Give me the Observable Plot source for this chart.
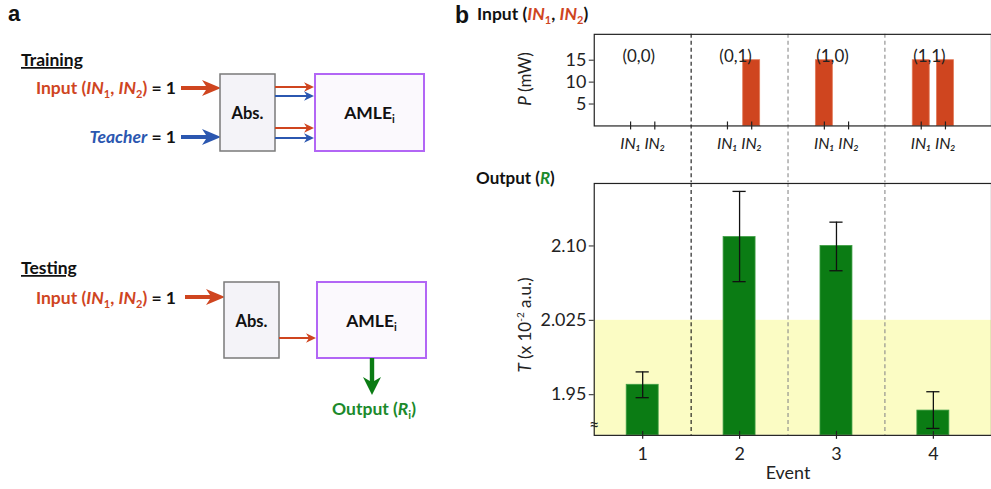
<!DOCTYPE html>
<html><head><meta charset="utf-8">
<script src="https://cdn.jsdelivr.net/npm/d3@7"></script>
<script src="https://cdn.jsdelivr.net/npm/@observablehq/plot@0.6"></script>
<style>
html,body{margin:0;padding:0;background:#fff;}
#root{position:relative;width:991px;height:489px;overflow:hidden;font-family:Lato,"Open Sans",sans-serif;color:#111;}
.abs{position:absolute;}
</style></head>
<body><div id="root">
<svg id="diagram" class="abs" style="left:0;top:0" width="991" height="489" font-family="Lato, sans-serif" font-weight="bold"></svg>
<div id="topChart" class="abs" style="left:534px;top:0px"></div>
<div id="bottomChart" class="abs" style="left:534px;top:178px"></div>
<svg id="labels" class="abs" style="left:0;top:0;pointer-events:none" width="991" height="489" font-family="Lato, sans-serif"></svg>
</div>
<script>
// ---------- data ----------
const groupLabels = ["(0,0)", "(0,1)", "(1,0)", "(1,1)"];
const channelLabels = ["IN\u2081", "IN\u2082"];
const powerIN1 = [0, 0, 15, 15];   // mW
const powerIN2 = [0, 15, 0, 15];   // mW
const powerTicks = [5, 10, 15];
const events = [1, 2, 3, 4];
const transmission = [1.960, 2.109, 2.100, 1.934];
const errLow = [1.947, 2.064, 2.075, 1.916];
const errHigh = [1.973, 2.155, 2.124, 1.953];
const tTicks = [1.95, 2.025, 2.10];
const tTickLabels = ["1.95", "2.025", "2.10"];
const threshold = 2.025;
const dividers = [1.5, 2.5, 3.5];

// ---------- layout constants ----------
const xDomain = [0.5, 4.6];
const pDomain = [0, 20.9];
const tDomain = [1.909, 2.163];
const chOffset = 0.125, inBarHalf = 0.0875, outBarHalf = 0.165, capHalf = 0.068;
const ORANGE = "#cf451f", BLUE = "#2b57b0", GREEN = "#0b7c14", GREEN_TXT = "#1b8a2b";
const baseStyle = {fontFamily: "Lato, sans-serif", fontSize: "16px", color: "#222", background: "transparent", overflow: "visible"};

const inputRows = events.flatMap((g, i) => [
  {x: g - chOffset, label: channelLabels[0], P: powerIN1[i]},
  {x: g + chOffset, label: channelLabels[1], P: powerIN2[i]}
]);
const labelByX = new Map(inputRows.map(d => [d.x, d.label]));
const outRows = events.map((e, i) => ({e, T: transmission[i], lo: errLow[i], hi: errHigh[i]}));

const dividerMarks = (extra) => [
  Plot.ruleX(dividers.slice(0, 1), {x: d => d, stroke: "#111", strokeWidth: 1.1, strokeDasharray: "4,3", ...extra}),
  Plot.ruleX(dividers.slice(1), {x: d => d, stroke: "#8a8a8a", strokeWidth: 1.1, strokeDasharray: "4,3", ...extra})
];

const topPlot = Plot.plot({
  width: 459, height: 183, marginTop: 34, marginBottom: 57, marginLeft: 60, marginRight: 0,
  style: baseStyle,
  x: {domain: xDomain, axis: null},
  y: {domain: pDomain, axis: null},
  marks: [
    ...dividerMarks({insetBottom: -57}),
    Plot.rect(inputRows.filter(d => d.P > 0), {x1: d => d.x - inBarHalf, x2: d => d.x + inBarHalf, y1: 0, y2: "P", fill: ORANGE, stroke: "#e27a58", strokeWidth: 0.8}),
    Plot.frame({stroke: "#222", strokeWidth: 1.2}),
    Plot.ruleX(inputRows, {x: "x", y1: 0, y2: 0, insetTop: -4, insetBottom: -4, stroke: "#222", strokeWidth: 1.2}),
    Plot.axisX(inputRows.map(d => d.x), {label: null, tickSize: 0, tickPadding: 12, tickFormat: d => labelByX.get(d), fontStyle: "italic", fontSize: 16}),
    Plot.axisY(powerTicks, {label: null, tickSize: 5, tickPadding: 3, fontSize: 18}),
    Plot.text(groupLabels, {x: (d, i) => events[i], frameAnchor: "top", dy: 16, dx: -4, fontSize: 17})
  ]
});
document.getElementById("topChart").append(topPlot);

const bottomPlot = Plot.plot({
  width: 459, height: 311, marginTop: 5, marginBottom: 53, marginLeft: 60, marginRight: 0,
  style: baseStyle,
  x: {domain: xDomain, axis: null},
  y: {domain: tDomain, axis: null},
  marks: [
    Plot.rect([threshold], {x1: xDomain[0], x2: xDomain[1], y1: tDomain[0], y2: d => d, fill: "#fbfcc4"}),
    ...dividerMarks({}),
    Plot.rect(outRows, {x1: d => d.e - outBarHalf, x2: d => d.e + outBarHalf, y1: tDomain[0], y2: "T", fill: GREEN, stroke: "#3f9e44", strokeWidth: 0.8}),
    Plot.ruleX(outRows, {x: "e", y1: "lo", y2: "hi", stroke: "#111", strokeWidth: 1.3}),
    Plot.ruleY(outRows, {y: "hi", x1: d => d.e - capHalf, x2: d => d.e + capHalf, stroke: "#111", strokeWidth: 1.3}),
    Plot.ruleY(outRows, {y: "lo", x1: d => d.e - capHalf, x2: d => d.e + capHalf, stroke: "#111", strokeWidth: 1.3}),
    Plot.frame({stroke: "#222", strokeWidth: 1.2}),
    Plot.ruleX(events, {x: d => d, y1: tDomain[0], y2: tDomain[0], insetTop: -4, insetBottom: -4, stroke: "#222", strokeWidth: 1.2}),
    Plot.axisX(events, {label: null, tickSize: 0, tickPadding: 12, fontSize: 18}),
    Plot.axisY(tTicks, {label: null, tickSize: 5, tickPadding: 3, tickFormat: d => tTickLabels[tTicks.indexOf(d)], fontSize: 18}),
    Plot.text(["\u2248"], {frameAnchor: "bottom-left", dy: -4, fontSize: 18, textAnchor: "middle"}),
    Plot.text(["Event"], {x: 2.5, frameAnchor: "bottom", dy: 44, fontSize: 18})
  ]
});
document.getElementById("bottomChart").append(bottomPlot);

// ---------- panel a diagram + headings ----------
const bigRight = (x0, x1, y) => `M${x0},${y-1.9} H${x1-15} L${x1-19},${y-8} L${x1},${y} L${x1-19},${y+8} L${x1-15},${y+1.9} H${x0} Z`;
const bigDown = (x, y0, y1) => `M${x-2.2},${y0} V${y1-14} L${x-9},${y1-18} L${x},${y1} L${x+9},${y1-18} L${x+2.2},${y1-14} V${y0} Z`;
const thinRight = (x0, x1, y, c) => `<line x1="${x0}" y1="${y}" x2="${x1-6}" y2="${y}" stroke="${c}" stroke-width="2"/><path d="M${x1},${y} L${x1-10},${y-4.8} L${x1-7},${y} L${x1-10},${y+4.8} Z" fill="${c}"/>`;
const inputText = (xEnd, y) => `<text x="${xEnd}" y="${y}" font-size="17.5" text-anchor="end"><tspan fill="${ORANGE}">Input (<tspan font-style="italic">IN</tspan><tspan font-size="11" dy="4">1</tspan><tspan dy="-4">, </tspan><tspan font-style="italic">IN</tspan><tspan font-size="11" dy="4">2</tspan><tspan dy="-4">)</tspan></tspan><tspan fill="#111"> = 1</tspan></text>`;
const boxes = (ax, bx, y, h, ty) => `
 <rect x="${ax}" y="${y}" width="55" height="${h}" fill="#f4f3f8" stroke="#7a7a7a" stroke-width="1.5"/>
 <text x="${ax+27.5}" y="${ty}" font-size="16.5" text-anchor="middle" fill="#111">Abs.</text>
 <rect x="${bx}" y="${y}" width="109" height="${h}" fill="#fbf9fd" stroke="#b266f5" stroke-width="2"/>
 <text x="${bx+54.5}" y="${ty}" font-size="17.5" text-anchor="middle" fill="#111">AMLE<tspan font-size="11" dy="4">i</tspan></text>`;

document.getElementById("diagram").innerHTML = `
 <text x="8" y="21" font-family="Liberation Sans, sans-serif" font-size="22" fill="#111">a</text>
 <text x="21" y="66" font-size="17.5" fill="#111" text-decoration="underline">Training</text>
 ${inputText(176, 94)}
 <text x="176" y="143" font-size="17.5" text-anchor="end"><tspan fill="${BLUE}" font-style="italic">Teacher</tspan><tspan fill="#111"> = 1</tspan></text>
 <path d="${bigRight(181, 221, 88)}" fill="${ORANGE}"/>
 <path d="${bigRight(181, 221, 137)}" fill="${BLUE}"/>
 ${boxes(220, 315, 74, 77, 119)}
 ${thinRight(275, 314, 87, ORANGE)}
 ${thinRight(275, 314, 96, BLUE)}
 ${thinRight(275, 314, 128, ORANGE)}
 ${thinRight(275, 314, 138, BLUE)}
 <text x="21" y="274" font-size="17.5" fill="#111" text-decoration="underline">Testing</text>
 ${inputText(176, 304)}
 <path d="${bigRight(185, 225, 297)}" fill="${ORANGE}"/>
 ${boxes(224, 317, 282, 76, 327)}
 ${thinRight(279, 316, 338, ORANGE)}
 <path d="${bigDown(372, 358, 395)}" fill="${GREEN}"/>
 <text x="374" y="415" font-size="17.5" text-anchor="middle" fill="${GREEN_TXT}">Output (<tspan font-style="italic">R</tspan><tspan font-size="11" dy="4">i</tspan><tspan dy="-4">)</tspan></text>
`;

document.getElementById("labels").innerHTML = `
 <text x="455" y="23" font-family="Liberation Sans, sans-serif" font-weight="bold" font-size="23" fill="#111">b</text>
 <text x="477" y="20" font-weight="bold" font-size="17.5" fill="#111">Input (<tspan fill="${ORANGE}" font-style="italic">IN</tspan><tspan fill="${ORANGE}" font-size="11" dy="4">1</tspan><tspan dy="-4">, </tspan><tspan fill="${ORANGE}" font-style="italic">IN</tspan><tspan fill="${ORANGE}" font-size="11" dy="4">2</tspan><tspan dy="-4">)</tspan></text>
 <text x="476" y="184" font-weight="bold" font-size="17" fill="#111">Output (<tspan fill="${GREEN_TXT}" font-style="italic">R</tspan>)</text>
 <text transform="translate(531,79) rotate(-90)" text-anchor="middle" font-size="17" fill="#222"><tspan font-style="italic">P</tspan> (mW)</text>
 <text transform="translate(531,325) rotate(-90)" text-anchor="middle" font-size="17" fill="#222"><tspan font-style="italic">T</tspan> (x 10<tspan font-size="10" dy="-7">-2</tspan><tspan dy="7">  a.u.)</tspan></text>
`;
</script>
</body></html>
